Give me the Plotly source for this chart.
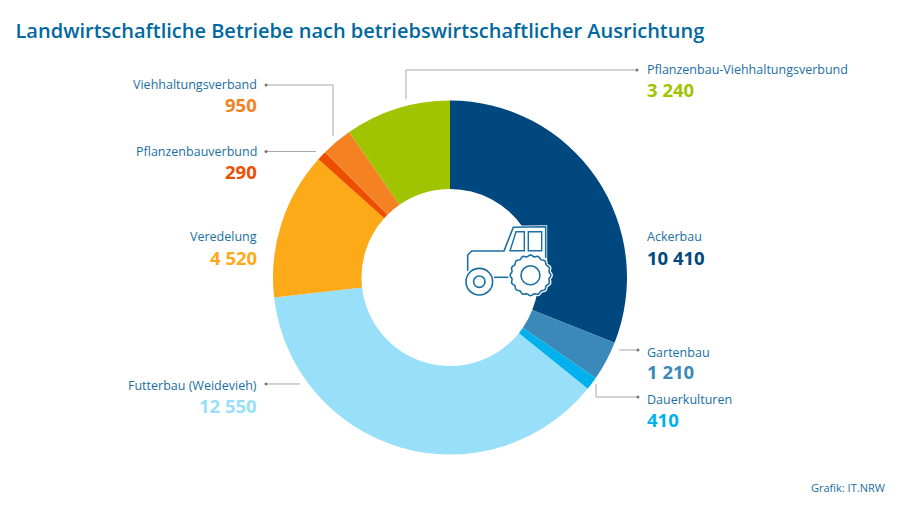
import math
import plotly.graph_objects as go

categories = ["Ackerbau", "Gartenbau", "Dauerkulturen", "Futterbau (Weidevieh)", "Veredelung",
              "Pflanzenbauverbund", "Viehhaltungsverband", "Pflanzenbau-Viehhaltungsverbund"]
values = [10410, 1210, 410, 12550, 4520, 290, 950, 3240]
value_labels = ["10 410", "1 210", "410", "12 550", "4 520", "290", "950", "3 240"]
colors = ["#00487f", "#3a89b8", "#00b1ee", "#98dffa", "#fcaa17", "#ee4e00", "#f58222", "#a0c400"]

W, H = 900, 506
TXT = "#1a6fa3"
FONT = "Open Sans"
X = lambda v: v / W
Y = lambda v: 1 - v / H

cx, cy, R = 450, 277.5, 177
fig = go.Figure(go.Pie(
    values=values, labels=categories, sort=False, direction="clockwise", rotation=0,
    hole=0.5, textinfo="none", hoverinfo="label+value", showlegend=False,
    marker=dict(colors=colors, line=dict(width=0)),
    domain=dict(x=[X(cx - R), X(cx + R)], y=[Y(cy + R), Y(cy - R)]),
))

shapes = []
annotations = []

def path_shape(d, color, width, fill=None):
    s = dict(type="path", xref="paper", yref="paper", path=d,
             line=dict(color=color, width=width))
    if fill:
        s["fillcolor"] = fill
    shapes.append(s)

def P(pts, close=False):
    d = "M " + " L ".join(f"{X(x):.5f},{Y(y):.5f}" for x, y in pts)
    return d + (" Z" if close else "")

# leader lines
leaders = [
    [(637, 70), (406, 70), (406, 99)],
    [(266, 85), (333, 85), (333, 136)],
    [(266, 151.5), (316, 151.5)],
    [(266, 384), (300, 384)],
    [(638, 350), (619, 350)],
    [(638, 397), (596, 397), (596, 384)],
]
for pts in leaders:
    path_shape(P(pts), "#a8a8a8", 1)
    x0, y0 = pts[0]
    shapes.append(dict(type="circle", xref="paper", yref="paper", fillcolor="#777777",
                       line=dict(width=0), x0=X(x0 - 1.5), x1=X(x0 + 1.5),
                       y0=Y(y0 + 1.5), y1=Y(y0 - 1.5)))

# labels: name, anchor side, x, name y, value y
placement = [
    ("left", 645, 237, 257), ("left", 645, 352, 371), ("left", 645, 399, 419),
    ("right", 259, 385, 405), ("right", 259, 237, 257), ("right", 259, 151, 171),
    ("right", 259, 84, 104), ("left", 645, 70, 90),
]
for name, val, col, (side, x, y1, y2) in zip(categories, value_labels, colors, placement):
    annotations.append(dict(text=name, x=X(x), y=Y(y1), xref="paper", yref="paper",
                            xanchor=side, yanchor="middle", showarrow=False,
                            font=dict(family=FONT, size=12.5, color=TXT)))
    annotations.append(dict(text=f"<b>{val}</b>", x=X(x), y=Y(y2), xref="paper", yref="paper",
                            xanchor=side, yanchor="middle", showarrow=False,
                            font=dict(family=FONT, size=18.5, color=col)))

annotations.append(dict(text="Grafik: IT.NRW", x=X(887), y=Y(487.5), xref="paper", yref="paper",
                        xanchor="right", yanchor="middle", showarrow=False,
                        font=dict(family=FONT, size=11, color=TXT)))

# tractor icon
IC = "#1a6fa3"
body = [(467.7, 270.7), (467.7, 255), (471.7, 251), (504, 251), (513.3, 227.3), (545.7, 226.7), (545.7, 258)]
body_fill = body + [(545.7, 280), (467.7, 280)]
win1 = [(510, 250.7), (516, 231.7), (524.3, 231.7), (524.3, 250.7)]
win2 = [(528.3, 231.7), (541.7, 231.7), (541.7, 250.7), (528.3, 250.7)]
axle = [(494, 277.3), (508.3, 277.3)]

def circle(x, y, r, color, width, fill=None):
    s = dict(type="circle", xref="paper", yref="paper", x0=X(x - r), x1=X(x + r),
             y0=Y(y + r), y1=Y(y - r), line=dict(color=color, width=width))
    if fill:
        s["fillcolor"] = fill
    shapes.append(s)

wheel_pts = []
for i in range(96):
    a = 2 * math.pi * i / 96
    r = 19.6 + 0.8 * math.cos(16 * a)
    wheel_pts.append((530.5 + r * math.cos(a), 275.3 + r * math.sin(a)))

# white halo and fill first
path_shape(P(body_fill, True), "white", 3, "white")
path_shape(P(wheel_pts, True), "white", 4, "white")
# icon strokes
for pts in (body, axle):
    path_shape(P(pts), IC, 1.6)
path_shape(P(win1, True), IC, 1.4)
path_shape(P(win2, True), IC, 1.4)
path_shape(P(wheel_pts, True), IC, 1.6, "white")
circle(530.5, 275.3, 9.5, IC, 1.6)
circle(479.3, 281.7, 13.3, IC, 1.6, "white")
circle(479.3, 281.7, 5.7, IC, 1.6)

fig.update_layout(
    width=W, height=H, margin=dict(l=0, r=0, t=0, b=0),
    paper_bgcolor="white", plot_bgcolor="white",
    title=dict(text="Landwirtschaftliche Betriebe nach betriebswirtschaftlicher Ausrichtung",
               x=X(15.5), xanchor="left", y=Y(31), yanchor="middle",
               font=dict(family=FONT, size=20, weight=600, color="#00689f")),
    shapes=shapes, annotations=annotations,
)
fig.write_html("out.html", config={"displayModeBar": False},
               post_script="document.body.style.margin='0';")
